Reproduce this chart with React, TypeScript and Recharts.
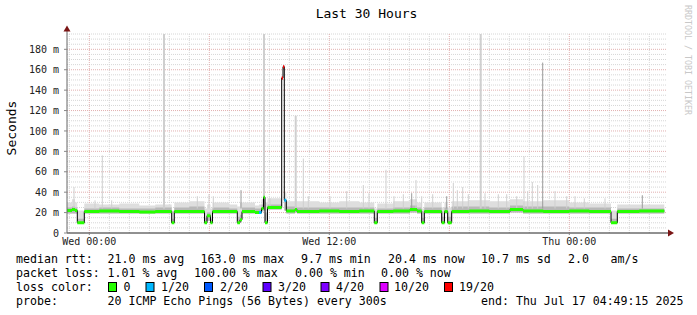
import React from 'react';
import { ComposedChart, Line, Area, XAxis, YAxis, ReferenceLine } from 'recharts';

// hours relative to Wed 00:00
const startHour = -1.115;
const endHour = 28.885;
const lastSampleHour = 28.75;

const xTickHours = [0, 12, 24];
const xTickLabels = ['Wed 00:00', 'Wed 12:00', 'Thu 00:00'];
const yTicks = [0, 20, 40, 60, 80, 100, 120, 140, 160, 180];

// median rtt steps (start hour of each step)
const stepHours = [
  -1.115, -0.865, -0.715, -0.6, -0.25, 0.5, 1.5, 2.5, 3.3, 4.12,
  4.25, 5.0, 5.76, 5.885, 6.06, 6.16, 7.0, 7.4, 7.535, 7.635,
  8.285, 8.485, 8.61, 8.71, 8.785, 8.91, 9.62, 9.685, 9.75, 9.85,
  10.285, 10.385, 11.5, 12.5, 13.5, 14.25, 14.4, 15.2, 16.035, 16.385,
  16.62, 16.75, 17.62, 17.76, 17.92, 18.12, 19.0, 20.0, 21.035, 21.685,
  22.7, 24.0, 25.0, 26.085, 26.4, 27.5,
];
const medianMs = [
  22, 23, 22, 10, 21, 21.5, 21, 20.5, 21, 10,
  21, 21, 10, 17, 10, 21, 21, 10, 13, 21,
  20, 20, 24, 35, 10, 25, 152, 163, 32, 21.5,
  23, 21, 21.5, 21, 21.5, 10, 21, 21.5, 23, 21.5,
  10, 21, 10, 21, 10, 21, 21.5, 21, 23, 21.5,
  21, 21.5, 21, 10, 21, 21.5,
];
// index into lossColors
const lossLevel = [
  0, 0, 0, 0, 0, 0, 0, 0, 0, 0,
  0, 0, 0, 0, 0, 0, 0, 0, 0, 0,
  0, 1, 0, 0, 0, 0, 6, 6, 1, 0,
  0, 0, 0, 0, 0, 0, 0, 0, 0, 0,
  0, 0, 0, 0, 0, 0, 0, 0, 0, 0,
  0, 0, 0, 0, 0, 0,
];
// smoke (ping spread) per step
const smokeLowMs = [
  19, 19, 19, 10, 19, 19, 19, 19, 19, 10,
  19, 19, 10, 12, 10, 19, 19, 10, 11, 19,
  19, 19, 21, 22, 10, 23, 150, 160, 22, 19,
  20, 19, 19, 19, 19, 10, 19, 19, 20, 19,
  10, 19, 10, 19, 10, 19, 19, 19, 20, 19,
  19, 19, 19, 10, 19, 19,
];
const smokeMidMs = [
  25, 26, 25, 14, 24, 25, 24, 24, 25, 14,
  25, 26, 15, 20, 14, 25, 24, 16, 18, 25,
  24, 24, 28, 36, 20, 28, 152, 163, 33, 26,
  26, 25, 25, 25, 25, 15, 24, 25, 27, 25,
  15, 25, 16, 25, 16, 26, 26, 25, 27, 26,
  26, 25, 25, 14, 24, 24,
];
const smokeHighMs = [
  30, 33, 30, 22, 29, 28, 29, 27, 28, 22,
  30, 31, 24, 28, 24, 30, 28, 26, 30, 30,
  27, 28, 33, 40, 30, 34, 154, 165, 40, 31,
  33, 31, 30, 31, 30, 24, 29, 31, 33, 30,
  24, 30, 25, 30, 25, 31, 32, 31, 33, 31,
  32, 30, 29, 22, 28, 28,
];

// single outlier pings
const spikeHours = [
  -0.765, 0.285, 0.65, 1.12, 3.735, 5.4, 5.985, 6.2, 7.585, 8.735,
  9.035, 10.32, 10.7, 10.95, 12.035, 12.87, 13.7, 13.985, 14.835, 15.235,
  15.7, 16.12, 16.335, 16.62, 17.17, 17.87, 18.2, 18.4, 18.67, 18.95,
  19.57, 19.785, 20.45, 20.87, 21.37, 21.735, 21.92, 22.15, 22.42, 22.67,
  23.285, 23.87, 24.285, 24.75, 25.785, 27.65,
];
const spikeTopMs = [
  45, 32, 76, 32, 195, 36, 38, 36, 42, 195,
  34, 115, 73, 36, 36, 41, 47, 39, 62, 36,
  38, 39, 52, 36, 38, 36, 49, 42, 45, 38,
  195, 39, 38, 38, 36, 75, 41, 50, 47, 167,
  41, 36, 36, 34, 34, 37,
];
// 0 thin light, 1 wide light, 2 thin dark
const spikeKind = [
  0, 0, 0, 0, 1, 0, 0, 0, 2, 1,
  0, 1, 0, 0, 0, 0, 0, 0, 0, 0,
  0, 2, 0, 0, 0, 2, 0, 0, 0, 0,
  1, 0, 0, 0, 0, 0, 0, 0, 0, 2,
  0, 0, 0, 0, 0, 2,
];
const spikeBaseMs = 24;

const lossColors = ['#26ff00', '#00b8ff', '#0059ff', '#5e00ff', '#7e00ff', '#dd00ff', '#ff0000'];
const lossLabels = ['0', '1/20', '2/20', '3/20', '4/20', '10/20', '19/20'];

const minorHours = Array.from({ length: 30 }, (_, i) => i - 1).filter((h) => h % 6 !== 0);
const majorHours = [0, 6, 12, 18, 24];
const minorMs = Array.from({ length: 39 }, (_, i) => (i + 1) * 5).filter((v) => v % 20 !== 0);
const majorMs = [20, 40, 60, 80, 100, 120, 140, 160, 180];

const rows = stepHours.map((t, i) => ({
  t,
  median: medianMs[i],
  band: [smokeLowMs[i], smokeHighMs[i]],
  core: [smokeLowMs[i], smokeMidMs[i]],
}));
const n = stepHours.length - 1;
rows.push({
  t: lastSampleHour,
  median: medianMs[n],
  band: [smokeLowMs[n], smokeHighMs[n]],
  core: [smokeLowMs[n], smokeMidMs[n]],
});

const segmentsFor = (level: number) => {
  const out: { t: number; v: number | null }[] = [];
  stepHours.forEach((t, i) => {
    if (lossLevel[i] !== level) return;
    const t2 = i < n ? stepHours[i + 1] : lastSampleHour;
    out.push({ t, v: medianMs[i] }, { t: t2, v: medianMs[i] }, { t: t2, v: null });
  });
  return out;
};

const spikesFor = (kind: number) => {
  const out: { t: number; v: number | null }[] = [];
  spikeHours.forEach((t, i) => {
    if (spikeKind[i] !== kind) return;
    out.push({ t, v: spikeBaseMs }, { t, v: spikeTopMs[i] }, { t, v: null });
  });
  return out;
};

const mono = 'DejaVu Sans Mono';
const usedLevels = [0, 1, 6];
const chartMargin = { top: 33, right: 30, left: 7, bottom: 0 };
const layer: React.CSSProperties = { position: 'absolute', left: 0, top: 0 };

// grid sits in its own chart underneath so it never covers the data
const GridLayer = () => (
  <div style={layer}>
    <ComposedChart width={697} height={255} data={rows} margin={chartMargin}>
      <XAxis type="number" dataKey="t" domain={[startHour, endHour]} ticks={xTickHours} height={22} tick={false} axisLine={false} tickLine={false} allowDataOverflow />
      <YAxis type="number" domain={[0, 196]} ticks={yTicks} width={60} tick={false} axisLine={false} tickLine={false} allowDataOverflow />
      {minorMs.map((v) => (
        <ReferenceLine key={'hm' + v} y={v} stroke="#d6d6d6" strokeDasharray="1 1" />
      ))}
      {minorHours.map((h) => (
        <ReferenceLine key={'vm' + h} x={h} stroke="#d6d6d6" strokeDasharray="1 1" />
      ))}
      {majorMs.map((v) => (
        <ReferenceLine key={'hM' + v} y={v} stroke="#e2b0b0" strokeDasharray="1 1" />
      ))}
      {majorHours.map((h) => (
        <ReferenceLine key={'vM' + h} x={h} stroke="#e2b0b0" strokeDasharray="1 1" />
      ))}
    </ComposedChart>
  </div>
);

export default function App() {
  return (
    <div style={{ position: 'absolute', left: 0, top: 0, width: 697, height: 315, background: '#fff', fontFamily: mono }}>
      <GridLayer />
      <div style={layer}>
        <ComposedChart width={697} height={255} data={rows} margin={chartMargin}>
          <XAxis
            type="number"
            dataKey="t"
            domain={[startHour, endHour]}
            ticks={xTickHours}
            tickFormatter={(v) => xTickLabels[xTickHours.indexOf(v)]}
            height={22}
            tickSize={2}
            tickMargin={3}
            axisLine={{ stroke: '#222' }}
            tickLine={{ stroke: '#888' }}
            tick={{ fontSize: 10, fill: '#222', fontFamily: mono }}
            allowDataOverflow
          />
          <YAxis
            type="number"
            domain={[0, 196]}
            ticks={yTicks}
            tickFormatter={(v) => (v === 0 ? '0' : `${v} m`)}
            width={60}
            tickSize={3}
            tickMargin={5}
            axisLine={{ stroke: '#666' }}
            tickLine={{ stroke: '#888' }}
            tick={{ fontSize: 10, fill: '#222', fontFamily: mono }}
            allowDataOverflow
          />
          <Area type="stepAfter" dataKey="band" stroke="none" fill="#dedede" fillOpacity={1} isAnimationActive={false} />
          <Area type="stepAfter" dataKey="core" stroke="none" fill="#b8b8b8" fillOpacity={1} isAnimationActive={false} />
          <Line data={spikesFor(0)} dataKey="v" stroke="#cfcfcf" strokeWidth={1} dot={false} isAnimationActive={false} />
          <Line data={spikesFor(1)} dataKey="v" stroke="#cfcfcf" strokeWidth={2} dot={false} isAnimationActive={false} />
          <Line data={spikesFor(2)} dataKey="v" stroke="#9a9a9a" strokeWidth={1} dot={false} isAnimationActive={false} />
          <Line type="stepAfter" dataKey="median" stroke="#000" strokeWidth={1} dot={false} isAnimationActive={false} />
          {usedLevels.map((lvl) => (
            <Line
              key={'loss' + lvl}
              data={segmentsFor(lvl)}
              dataKey="v"
              stroke={lossColors[lvl]}
              strokeWidth={3}
              dot={false}
              isAnimationActive={false}
            />
          ))}
        </ComposedChart>
      </div>
      <svg width={697} height={315} style={{ ...layer, pointerEvents: 'none' }} fontFamily={mono}>
        <text x={366.5} y={18} textAnchor="middle" fontSize={13} fill="#000">Last 30 Hours</text>
        <text transform="translate(15.5,128) rotate(-90)" textAnchor="middle" fontSize={13} fill="#000">Seconds</text>
        <text transform="translate(685,5) rotate(90)" fontSize={8.3} fill="#c8c8c8">RRDTOOL / TOBI OETIKER</text>
        <line x1={67} y1={33} x2={67} y2={30} stroke="#666" />
        <line x1={667} y1={233} x2={669} y2={233} stroke="#222" />
        <polygon points="67,25.5 63.5,31.5 70.5,31.5" fill="#7a1515" />
        <polygon points="674,233 668,229.5 668,236.5" fill="#7a1515" />
        <g fontSize={11.6} fill="#000">
          <text x={16} y={263}>median rtt:</text>
          <text x={107.5} y={263}>21.0 ms avg</text>
          <text x={200.5} y={263}>163.0 ms max</text>
          <text x={301} y={263}>9.7 ms min</text>
          <text x={388} y={263}>20.4 ms now</text>
          <text x={481} y={263}>10.7 ms sd</text>
          <text x={568} y={263}>2.0</text>
          <text x={610.5} y={263}>am/s</text>
          <text x={16} y={277}>packet loss:</text>
          <text x={107.5} y={277}>1.01 % avg</text>
          <text x={194} y={277}>100.00 % max</text>
          <text x={295} y={277}>0.00 % min</text>
          <text x={381} y={277}>0.00 % now</text>
          <text x={16} y={291}>loss color:</text>
          {[108.5, 146, 204.5, 263, 321, 380, 444.5].map((bx, i) => (
            <rect key={'sw' + i} x={bx} y={282.5} width={8} height={9} fill={lossColors[i]} stroke="#000" />
          ))}
          {[123.5, 161, 220, 278, 336, 394, 459].map((lx, i) => (
            <text key={'sl' + i} x={lx} y={291}>{lossLabels[i]}</text>
          ))}
          <text x={16} y={305}>probe:</text>
          <text x={107.5} y={305}>20 ICMP Echo Pings (56 Bytes) every 300s</text>
          <text x={481} y={305}>end: Thu Jul 17 04:49:15 2025</text>
        </g>
      </svg>
    </div>
  );
}
